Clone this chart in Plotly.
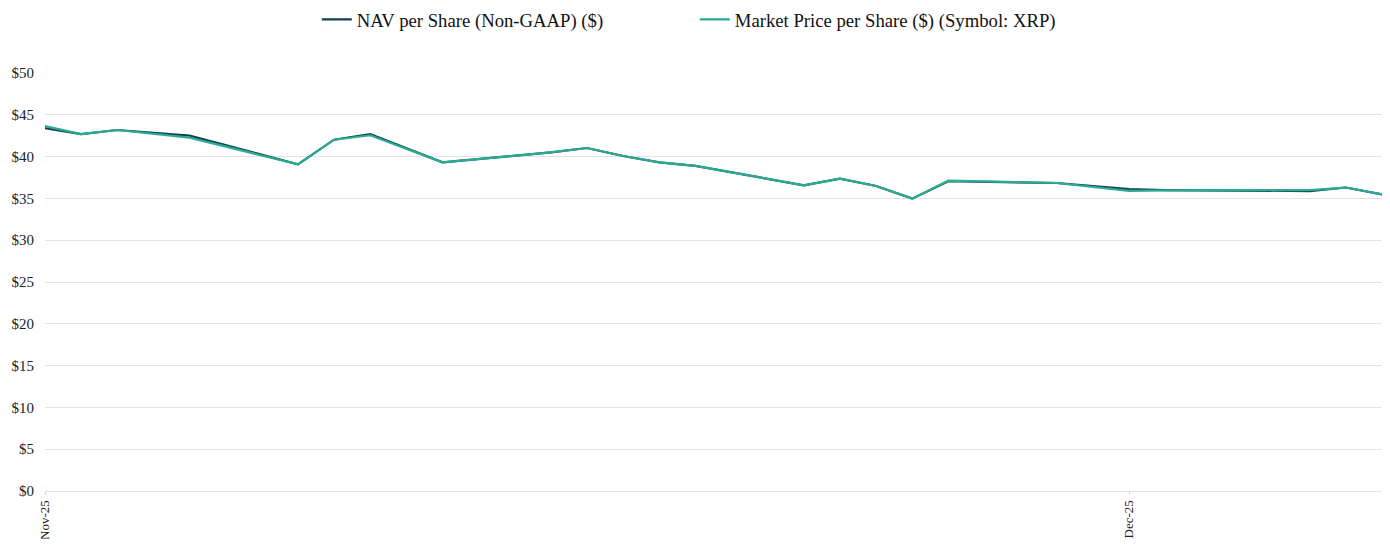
import plotly.graph_objects as go

# trading days shown in the chart (Thanksgiving skipped)
dates = ["2025-11-17", "2025-11-18", "2025-11-19", "2025-11-20", "2025-11-21",
         "2025-11-24", "2025-11-25", "2025-11-26", "2025-11-28",
         "2025-12-01", "2025-12-02", "2025-12-03", "2025-12-04", "2025-12-05",
         "2025-12-08", "2025-12-09", "2025-12-10", "2025-12-11", "2025-12-12",
         "2025-12-15", "2025-12-16", "2025-12-17", "2025-12-18", "2025-12-19",
         "2025-12-22", "2025-12-23", "2025-12-24"]

nav = [43.40, 42.70, 43.18, 42.85, 42.50,
       39.08, 42.02, 42.70, 39.32,
       40.50, 41.03, 40.07, 39.30, 38.88,
       36.56, 37.36, 36.48, 34.97, 37.05,
       36.84, 36.48, 36.12, 36.00, 35.95,
       35.88, 36.30, 35.49]

market = [43.66, 42.70, 43.18, 42.72, 42.26,
          39.08, 42.02, 42.55, 39.32,
          40.50, 41.03, 40.07, 39.30, 38.88,
          36.56, 37.36, 36.48, 34.97, 37.12,
          36.84, 36.40, 35.90, 35.95, 35.98,
          36.00, 36.30, 35.49]

tick_dates = ["2025-11-17", "2025-12-17"]
tick_text = ["Nov-25", "Dec-25"]

font = "Liberation Serif, Times New Roman, serif"

fig = go.Figure()
fig.add_trace(go.Scatter(x=dates, y=nav, mode="lines", name="NAV per Share (Non-GAAP) ($)",
                         line=dict(color="#0e3f4e", width=2.2)))
fig.add_trace(go.Scatter(x=dates, y=market, mode="lines", name="Market Price per Share ($) (Symbol: XRP)",
                         line=dict(color="#2bab93", width=2.2)))

# page body has an 8px margin, so the figure is sized to fit the window
fig.update_layout(
    width=1374, height=531,
    margin=dict(l=37, r=0, t=65, b=48),
    plot_bgcolor="white", paper_bgcolor="white",
    font=dict(family=font, size=15, color="#222"),
    legend=dict(orientation="h", x=0.486, xanchor="center",
                y=0.978, yanchor="middle", yref="container",
                font=dict(size=18.7, color="#111"),
                entrywidth=333, entrywidthmode="pixels"),
    showlegend=True,
)

fig.update_xaxes(type="date", range=[dates[0], dates[-1]], tickvals=tick_dates, ticktext=tick_text,
                 tickangle=-90, showgrid=False, showline=False, zeroline=False, automargin=False,
                 ticks="outside", ticklen=3, tickcolor="#d9d9d9", tickfont=dict(size=13, color="#222"))
fig.update_yaxes(range=[0, 50], dtick=5, tickprefix="$", showgrid=True, gridcolor="#e3e3e3",
                 zeroline=True, zerolinecolor="#e3e3e3", zerolinewidth=1, showline=False,
                 automargin=False, ticks="", ticklabelstandoff=10,
                 tickfont=dict(size=15, color="#222"))

fig.write_html("out.html")
